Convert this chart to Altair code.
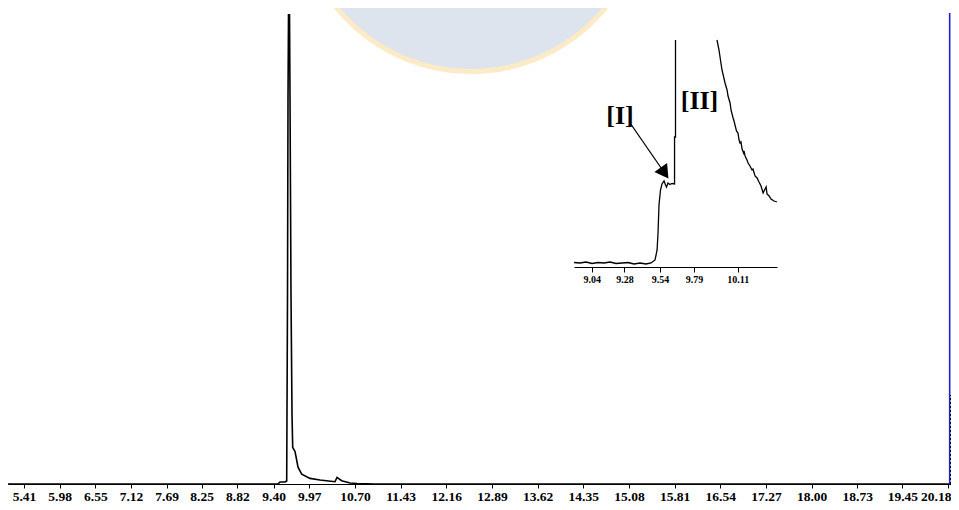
import altair as alt
import pandas as pd

# ---------------- main chromatogram (retention time in min, signal in a.u.) -------------
main_time = [5.154, 9.470, 9.502, 9.582, 9.609, 9.622, 9.630, 9.638, 9.654, 9.662,
             9.678, 9.694, 9.705, 9.742, 9.790, 9.849, 9.982, 10.141, 10.381, 10.413,
             10.429, 10.488, 10.621, 10.733, 11.020, 20.200]
main_signal = [0, 0, 2, 2, 3, 190, 390, 475, 475, 390,
               190, 70, 37, 33, 17, 10, 5.7, 4, 2.3, 6.7,
               6, 3.3, 1, 0.5, 0, 0]
main_ticks = [5.41, 5.98, 6.55, 7.12, 7.69, 8.25, 8.82, 9.40, 9.97, 10.70, 11.43, 12.16,
              12.89, 13.62, 14.35, 15.08, 15.81, 16.54, 17.27, 18.00, 18.73, 19.45, 20.18]
main_domain = [5.154, 20.228]
signal_domain = [0, 482]

# end-of-run marker traces at the right edge of the window
blue_time = [20.207]
blue_top = [477]
dotted_time = [20.222]
dotted_top = [90]

# faint watermark seal (background)
wm_time = [12.555]
wm_level = [593]

# ---------------- inset (zoom on the main peak) -------------
inset_time_a = [8.910, 8.954, 8.998, 9.042, 9.086, 9.130, 9.174, 9.218, 9.262, 9.306,
                9.350, 9.394, 9.438, 9.475, 9.504, 9.519, 9.526, 9.533, 9.544, 9.555,
                9.570, 9.581, 9.588, 9.599, 9.613, 9.628, 9.647, 9.647, 9.654, 9.654]
inset_signal_a = [4.5, 4, 5, 3.5, 4.5, 4, 5, 3.5, 4, 4.5,
                  3, 4, 3, 4, 7, 17, 34, 62, 77, 83,
                  86, 82, 80, 84, 82.5, 83.5, 83, 130, 130, 227]
inset_time_b = [9.958, 9.973, 9.988, 9.995, 10.017, 10.032, 10.039, 10.054, 10.061, 10.076,
                10.083, 10.090, 10.101, 10.112, 10.120, 10.127, 10.134, 10.142, 10.153, 10.156,
                10.164, 10.178, 10.186, 10.200, 10.215, 10.222, 10.237, 10.252, 10.266, 10.281,
                10.296, 10.303, 10.318, 10.325, 10.340, 10.354, 10.376, 10.398]
inset_signal_b = [227, 217, 203, 197, 184, 177, 171, 164, 157, 149,
                  146, 142, 136, 134, 127, 124, 125, 118, 114, 116,
                  111, 107, 104, 101, 97, 98, 91, 89, 85, 81,
                  74, 76, 80, 73, 71, 68, 66, 65]
inset_ticks = [9.04, 9.28, 9.54, 9.79, 10.11]
inset_domain = [8.910, 10.398]
inset_signal_domain = [0, 227]

label_text = ["[I]", "[II]"]
label_time = [9.247, 9.830]
label_level = [151, 166]

arrow_time = [9.321]
arrow_level = [144]
arrow_tip_time = [9.574]
arrow_tip_level = [94]

SERIF = "Liberation Serif"
PLOT_W, PLOT_H = 943, 476

# ---------------- scales ----------------
xs_main = alt.Scale(domain=main_domain, nice=False, zero=False)
ys_main = alt.Scale(domain=signal_domain, nice=False, zero=False)
xs_in = alt.Scale(domain=inset_domain, range=[566, 769], nice=False, zero=False)
ys_in = alt.Scale(domain=inset_signal_domain, range=[259, 32], nice=False, zero=False)

# ---------------- data frames ----------------
df_main = pd.DataFrame({"t": main_time, "s": main_signal, "i": range(len(main_time))})
df_blue = pd.DataFrame({"t": blue_time, "s0": [0] * len(blue_time), "s": blue_top})
df_dot = pd.DataFrame({"t": dotted_time, "s0": [0] * len(dotted_time), "s": dotted_top})
df_wm = pd.DataFrame({"t": wm_time, "s": wm_level})
df_in = pd.DataFrame({
    "t": inset_time_a + inset_time_b,
    "s": inset_signal_a + inset_signal_b,
    "seg": ["a"] * len(inset_time_a) + ["b"] * len(inset_time_b),
    "i": list(range(len(inset_time_a))) + list(range(len(inset_time_b))),
})
df_lab = pd.DataFrame({"t": label_time, "s": label_level, "txt": label_text})
df_arr = pd.DataFrame({"t": arrow_time, "s": arrow_level,
                       "t2": arrow_tip_time, "s2": arrow_tip_level})

# ---------------- layers ----------------
watermark = alt.Chart(df_wm).mark_point(
    shape="circle", size=120000, filled=True, fill="#dde4ee",
    stroke="#fcebc6", strokeWidth=5, opacity=1
).encode(
    x=alt.X("t:Q", scale=xs_main, axis=None),
    y=alt.Y("s:Q", scale=ys_main, axis=None),
)

main_line = alt.Chart(df_main).mark_line(color="black", strokeWidth=1.6).encode(
    x=alt.X("t:Q", scale=xs_main, title=None,
            axis=alt.Axis(values=main_ticks, format=".2f", grid=False,
                          labelFont=SERIF, labelFontWeight="bold", labelFontSize=13.5,
                          labelColor="black", domainColor="black", tickColor="black",
                          tickSize=4, labelPadding=1, labelOverlap=False,
                          labelFlush=4, labelFlushOffset=3, domainWidth=1.2)),
    y=alt.Y("s:Q", scale=ys_main, axis=None),
    order="i:Q",
)

blue_rule = alt.Chart(df_blue).mark_rule(color="#1f1fd0", strokeWidth=1.6).encode(
    x=alt.X("t:Q", scale=xs_main, axis=None),
    y=alt.Y("s0:Q", scale=ys_main, axis=None),
    y2="s:Q",
)

dot_rule = alt.Chart(df_dot).mark_rule(color="black", strokeWidth=1.2,
                                       strokeDash=[2, 2]).encode(
    x=alt.X("t:Q", scale=xs_main, axis=None),
    y=alt.Y("s0:Q", scale=ys_main, axis=None),
    y2="s:Q",
)

inset_line = alt.Chart(df_in).mark_line(color="black", strokeWidth=1.3).encode(
    x=alt.X("t:Q", scale=xs_in, title=None,
            axis=alt.Axis(values=inset_ticks, format=".2f", grid=False, orient="bottom",
                          offset=-(PLOT_H - 259), labelFont=SERIF, labelFontWeight="bold",
                          labelFontSize=10, labelColor="black", domainColor="black",
                          tickColor="black", tickSize=5, labelPadding=2,
                          labelOverlap=False, labelFlush=False)),
    y=alt.Y("s:Q", scale=ys_in, axis=None),
    detail="seg:N",
    order="i:Q",
)

arrow_line = alt.Chart(df_arr).mark_rule(color="black", strokeWidth=1.3).encode(
    x=alt.X("t:Q", scale=xs_in, axis=None),
    y=alt.Y("s:Q", scale=ys_in, axis=None),
    x2="t2:Q",
    y2="s2:Q",
)

arrow_head = alt.Chart(df_arr).mark_point(
    shape="triangle-up", size=240, filled=True, color="black", opacity=1, angle=145
).encode(
    x=alt.X("t2:Q", scale=xs_in, axis=None),
    y=alt.Y("s2:Q", scale=ys_in, axis=None),
)

labels = alt.Chart(df_lab).mark_text(
    font=SERIF, fontWeight="bold", fontSize=26, color="black",
    align="center", baseline="middle"
).encode(
    x=alt.X("t:Q", scale=xs_in, axis=None),
    y=alt.Y("s:Q", scale=ys_in, axis=None),
    text="txt:N",
)

chart = alt.layer(
    watermark, main_line, blue_rule, dot_rule, inset_line, arrow_line, arrow_head, labels
).resolve_scale(
    x="independent", y="independent"
).properties(
    width=PLOT_W, height=PLOT_H,
    autosize=alt.AutoSizeParams(type="none"),
    padding={"left": 0, "top": 0, "right": 0, "bottom": 18},
).configure_view(stroke=None)

chart.save("out.html", embed_options={"renderer": "svg", "actions": False})
